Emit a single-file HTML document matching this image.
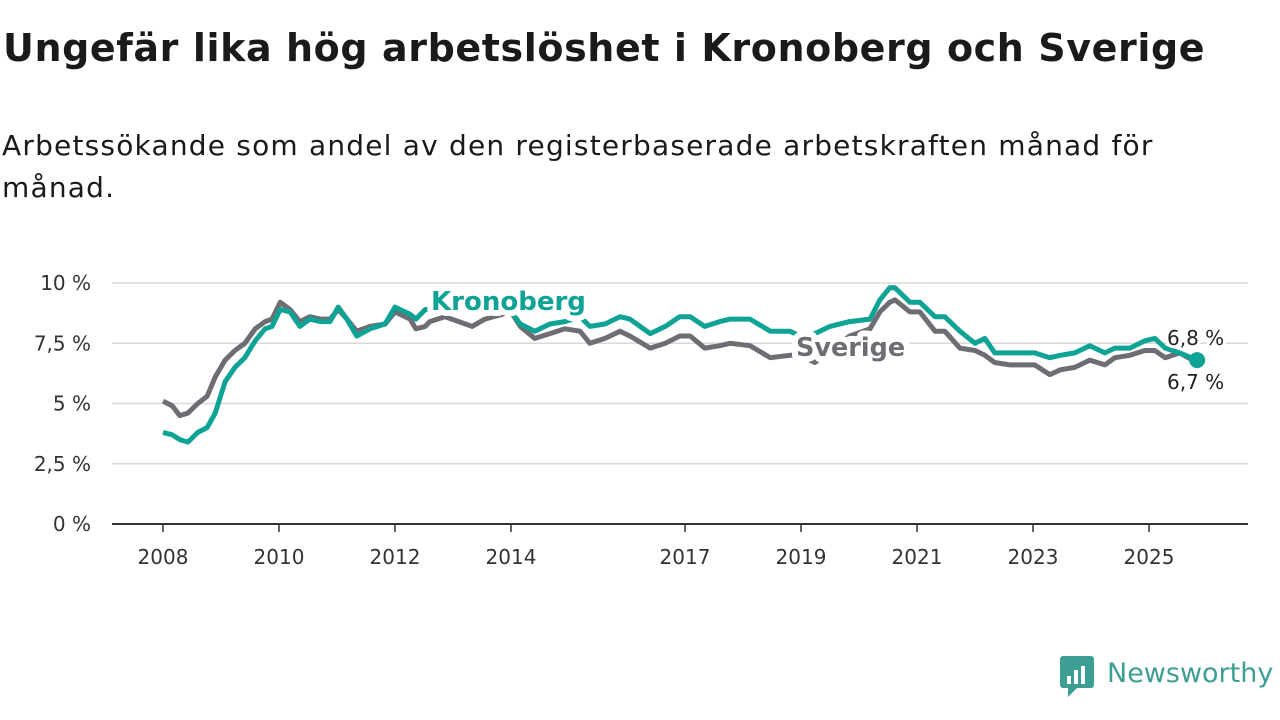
<!DOCTYPE html>
<html><head><meta charset="utf-8">
<style>
body{margin:0;background:#fff;font-family:"DejaVu Sans",sans-serif;}
#wrap{position:relative;width:1280px;height:720px;overflow:hidden;}
h1{position:absolute;left:3px;top:26px;margin:0;font-size:38px;font-weight:bold;color:#1a1a1a;letter-spacing:0.6px;white-space:nowrap}
.sub{position:absolute;left:2px;top:125px;margin:0;font-size:28px;line-height:42px;color:#1a1a1a;width:1270px;letter-spacing:1.2px;white-space:nowrap}
svg{position:absolute;left:0;top:0}
</style></head><body>
<div id="wrap">
<h1>Ungefär lika hög arbetslöshet i Kronoberg och Sverige</h1>
<p class="sub">Arbetssökande som andel av den registerbaserade arbetskraften månad för<br>månad.</p>
<svg id="chart" width="1280" height="720"></svg>
</div>
<script>
const dates=[2008.00,2008.16,2008.29,2008.43,2008.60,2008.76,2008.90,2009.07,2009.24,2009.41,2009.59,2009.76,2009.88,2010.02,2010.19,2010.36,2010.53,2010.71,2010.88,2011.02,2011.17,2011.34,2011.57,2011.83,2012.00,2012.26,2012.36,2012.52,2012.60,2012.86,2013.33,2013.55,2014.00,2014.16,2014.41,2014.67,2014.93,2015.19,2015.36,2015.62,2015.88,2016.05,2016.40,2016.66,2016.91,2017.09,2017.34,2017.60,2017.78,2018.12,2018.47,2018.81,2018.98,2019.24,2019.50,2019.84,2020.19,2020.36,2020.53,2020.62,2020.88,2021.05,2021.31,2021.48,2021.74,2022.00,2022.17,2022.34,2022.60,2022.78,2023.03,2023.29,2023.47,2023.72,2023.98,2024.24,2024.41,2024.67,2024.93,2025.10,2025.28,2025.53,2025.83];
const kronoberg=[3.8,3.7,3.5,3.4,3.8,4.0,4.6,5.9,6.5,6.9,7.6,8.1,8.2,8.9,8.8,8.2,8.5,8.4,8.4,9.0,8.5,7.8,8.1,8.3,9.0,8.7,8.5,8.9,8.9,8.9,8.9,8.9,8.8,8.3,8.0,8.3,8.4,8.6,8.2,8.3,8.6,8.5,7.9,8.2,8.6,8.6,8.2,8.4,8.5,8.5,8.0,8.0,7.8,7.9,8.2,8.4,8.5,9.3,9.8,9.8,9.2,9.2,8.6,8.6,8.0,7.5,7.7,7.1,7.1,7.1,7.1,6.9,7.0,7.1,7.4,7.1,7.3,7.3,7.6,7.7,7.3,7.1,6.8];
const sverige=[5.1,4.9,4.5,4.6,5.0,5.3,6.1,6.8,7.2,7.5,8.1,8.4,8.5,9.2,8.9,8.4,8.6,8.5,8.5,8.9,8.5,8.0,8.2,8.3,8.8,8.5,8.1,8.2,8.4,8.6,8.2,8.5,8.8,8.2,7.7,7.9,8.1,8.0,7.5,7.7,8.0,7.8,7.3,7.5,7.8,7.8,7.3,7.4,7.5,7.4,6.9,7.0,7.0,6.7,7.2,7.8,8.1,8.8,9.2,9.3,8.8,8.8,8.0,8.0,7.3,7.2,7.0,6.7,6.6,6.6,6.6,6.2,6.4,6.5,6.8,6.6,6.9,7.0,7.2,7.2,6.9,7.1,6.7];
const yTicks=[0,2.5,5,7.5,10];
const yTickLabels=["0 %","2,5 %","5 %","7,5 %","10 %"];
const xTicks=[2008,2010,2012,2014,2017,2019,2021,2023,2025];

const NS="http://www.w3.org/2000/svg";
const FONT='DejaVu Sans, sans-serif';
const svg=document.getElementById('chart');
const X=t=>163+(t-2008)*58;
const Y=v=>524-v*24.1;
function mk(tag,attrs,parent){const e=document.createElementNS(NS,tag);for(const k in attrs)e.setAttribute(k,attrs[k]);(parent||svg).appendChild(e);return e;}

yTicks.forEach((v,i)=>{
  const g=mk('line',{x1:112,x2:1248,y1:Y(v),y2:Y(v),stroke:v===0?'#333':'#d9d9d9','stroke-width':v===0?2:1.5});
  
  
  const t=mk('text',{x:91,y:Y(v)+7,'text-anchor':'end','font-size':20,fill:'#333','font-family':FONT});
  t.textContent=yTickLabels[i];
  
  
});
xTicks.forEach(yr=>{
  const l=mk('line',{x1:X(yr),x2:X(yr),y1:524,y2:532,stroke:'#333','stroke-width':1.5});
  
  
  const t=mk('text',{x:X(yr),y:564,'text-anchor':'middle','font-size':20,fill:'#333','font-family':FONT});
  t.textContent=String(yr);
  
  
});
function path(vals){return vals.map((v,i)=>(i?'L':'M')+X(dates[i]).toFixed(1)+','+Y(v).toFixed(1)).join('');}
const ps=mk('path',{d:path(sverige),fill:'none',stroke:'#6e6d73','stroke-width':5,'stroke-linejoin':'round'});


const pk=mk('path',{d:path(kronoberg),fill:'none',stroke:'#0fa396','stroke-width':5,'stroke-linejoin':'round'});


const n=dates.length-1;
const dot=mk('circle',{cx:X(dates[n]),cy:Y(kronoberg[n]),r:8,fill:'#0fa396'});


function label(txt,x,y,col,bold,name,size,sw){const t=mk('text',{x:x,y:y,'font-size':size,'font-weight':bold?'bold':'normal',fill:col,stroke:'#fff','stroke-width':sw,'paint-order':'stroke','stroke-linejoin':'round','font-family':FONT});t.textContent=txt;return t;}
label('Kronoberg',431,310,'#0fa396',true,'kronoberg-label',26,12);
label('Sverige',796,356,'#6e6d73',true,'sverige-label',25.5,12);
label('6,8 %',1167,345,'#222',false,'kronoberg-end-value',20,6);
label('6,7 %',1167,389,'#222',false,'sverige-end-value',20,6);
const lg=mk('g',{});


mk('rect',{x:1060,y:656,width:34,height:32,rx:3,fill:'#3d9e93'},lg);
mk('path',{d:'M1068,688 L1068,697 L1077,688 Z',fill:'#3d9e93'},lg);
[[1067,676,4,8],[1074,670,4,14],[1081,666,4,18]].forEach(r=>mk('rect',{x:r[0],y:r[1],width:r[2],height:r[3],fill:'#fff'},lg));
const lt=mk('text',{x:1107,y:682,'font-size':27,fill:'#3d9e93','font-family':FONT},lg);
lt.textContent='Newsworthy';
</script>
</body></html>
